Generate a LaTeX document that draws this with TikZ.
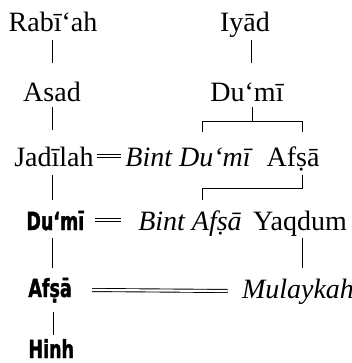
\documentclass[tikz,border=0pt]{standalone}
\usepackage{fontspec}
\setmainfont{Liberation Serif}
\newfontfamily\heavy[FakeStretch=0.7,FakeBold=1.5]{DejaVu Sans}
\usetikzlibrary{calc}
\tikzset{
  nm/.style={inner sep=0pt, anchor=base, font=\fontsize{14}{16}\selectfont},
  wf/.style={inner sep=0pt, anchor=base, font=\fontsize{14}{16}\selectfont\itshape},
  hv/.style={inner sep=0pt, anchor=base west, font=\fontsize{12.5}{14}\selectfont\heavy\bfseries},
  ln/.style={line width=0.5pt},
  mar/.style={double, line width=0.45pt, double distance=1.1pt}
}
\begin{document}
\begin{tikzpicture}[x=0.5pt,y=-0.5pt]
\useasboundingbox (0,0) rectangle (352,363);
% names
\node[nm] (rabiah) at (53,32) {Rabī‘ah};
\node[nm] (iyad) at (245,32) {Iyād};
\node[nm] (asad) at (52,102) {Asad};
\node[nm] (dumi1) at (247,102) {Du‘mī};
\node[nm] (jadilah) at (54,167) {Jadīlah};
\node[wf] (bintdumi) at (188,167) {Bint Du‘mī};
\node[nm] (afsa1) at (293,167) {Afṣā};
\node[hv] (dumi2) at (26,230) {Du‘mī};
\node[wf] (bintafsa) at (190,230) {Bint Afṣā};
\node[nm] (yaqdum) at (300,230) {Yaqdum};
\node[hv] (afsa2) at (28,297) {Afṣā};
\node[wf] (mulaykah) at (298,298) {Mulaykah};
\node[hv] (hinh) at (28,358) {Hinh};
% descent lines
\draw[ln] ($(rabiah.base)+(-1,8)$) -- ($(asad.base)+(0,-39)$);
\draw[ln] ($(iyad.base)+(6,8)$) -- ($(dumi1.base)+(4,-39)$);
\draw[ln] ($(asad.base)+(0,5)$) -- ($(jadilah.base)+(-2,-37)$);
\draw[ln] ($(dumi1.base)+(5,5)$) -- ($(dumi1.base)+(5,20)$);
\draw[ln] ($(bintdumi.base)+(14,-35)$) -- ($(bintdumi.base)+(14,-45)$) -- ($(afsa1.base)+(9,-45)$) -- ($(afsa1.base)+(9,-35)$);
\draw[ln] ($(jadilah.base)+(-2,8)$) -- ($(dumi2.base west)+(26,-30)$);
\draw[ln] ($(afsa1.base)+(9,8)$) -- ($(afsa1.base)+(9,21)$) -- ($(bintafsa.base)+(12,-42)$) -- ($(bintafsa.base)+(12,-30)$);
\draw[ln] ($(dumi2.base west)+(26,8)$) -- ($(afsa2.base west)+(24,-29)$);
\draw[ln] ($(yaqdum.base)+(2,8)$) -- ($(mulaykah.base)+(4,-30)$);
\draw[ln] ($(afsa2.base west)+(25,15)$) -- ($(hinh.base west)+(25,-23)$);
% marriages
\draw[mar] ($(jadilah.base east)+(3,-11)$) -- ($(bintdumi.base west)+(-4,-11)$);
\draw[mar] ($(dumi2.base east)+(10,-10)$) -- ($(bintafsa.base west)+(-17,-10)$);
\draw[mar] ($(afsa2.base east)+(20,-7)$) -- ($(mulaykah.base west)+(-14,-7)$);
\end{tikzpicture}
\end{document}
